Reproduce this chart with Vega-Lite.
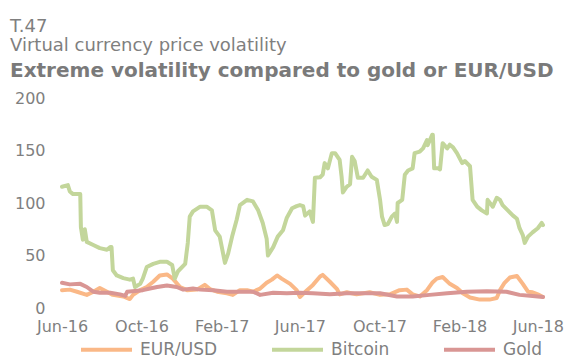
{
  "$schema": "https://vega.github.io/schema/vega-lite/v6.json",
  "autosize": "none",
  "width": 481,
  "height": 210,
  "padding": {"left": 62, "top": 98, "right": 23, "bottom": 48},
  "background": "white",
  "config": {
    "view": {"stroke": null},
    "font": "DejaVu Sans"
  },
  "title": {
    "text": ["T.47", "Virtual currency price volatility"],
    "subtitle": "Extreme volatility compared to gold or EUR/USD",
    "anchor": "start",
    "frame": "group",
    "orient": "top",
    "dx": -52,
    "fontSize": 18,
    "fontWeight": "normal",
    "lineHeight": 19,
    "color": "#7f7f7f",
    "subtitleFontSize": 20,
    "subtitleFontWeight": "bold",
    "subtitleColor": "#7a7a7a",
    "subtitlePadding": 6,
    "offset": 9
  },
  "data": {
    "values": [
      {"date": "2016-06-01", "series": "EUR/USD", "value": 17},
      {"date": "2016-06-13", "series": "EUR/USD", "value": 17.5},
      {"date": "2016-06-24", "series": "EUR/USD", "value": 15.5},
      {"date": "2016-07-09", "series": "EUR/USD", "value": 12.5},
      {"date": "2016-07-19", "series": "EUR/USD", "value": 15.5},
      {"date": "2016-07-29", "series": "EUR/USD", "value": 19},
      {"date": "2016-08-09", "series": "EUR/USD", "value": 15.5},
      {"date": "2016-08-18", "series": "EUR/USD", "value": 12.5},
      {"date": "2016-09-03", "series": "EUR/USD", "value": 11},
      {"date": "2016-09-13", "series": "EUR/USD", "value": 8.5},
      {"date": "2016-09-18", "series": "EUR/USD", "value": 12.5},
      {"date": "2016-09-29", "series": "EUR/USD", "value": 17},
      {"date": "2016-10-09", "series": "EUR/USD", "value": 20},
      {"date": "2016-10-19", "series": "EUR/USD", "value": 25},
      {"date": "2016-10-29", "series": "EUR/USD", "value": 31},
      {"date": "2016-11-09", "series": "EUR/USD", "value": 32},
      {"date": "2016-11-18", "series": "EUR/USD", "value": 28},
      {"date": "2016-11-29", "series": "EUR/USD", "value": 20},
      {"date": "2016-12-10", "series": "EUR/USD", "value": 17},
      {"date": "2016-12-25", "series": "EUR/USD", "value": 17.5},
      {"date": "2017-01-06", "series": "EUR/USD", "value": 22},
      {"date": "2017-01-14", "series": "EUR/USD", "value": 18},
      {"date": "2017-01-25", "series": "EUR/USD", "value": 15.5},
      {"date": "2017-02-09", "series": "EUR/USD", "value": 14},
      {"date": "2017-02-18", "series": "EUR/USD", "value": 12.5},
      {"date": "2017-03-01", "series": "EUR/USD", "value": 17},
      {"date": "2017-03-12", "series": "EUR/USD", "value": 17},
      {"date": "2017-03-21", "series": "EUR/USD", "value": 15.5},
      {"date": "2017-04-01", "series": "EUR/USD", "value": 18.5},
      {"date": "2017-04-11", "series": "EUR/USD", "value": 24},
      {"date": "2017-04-19", "series": "EUR/USD", "value": 27},
      {"date": "2017-04-27", "series": "EUR/USD", "value": 31},
      {"date": "2017-05-04", "series": "EUR/USD", "value": 28},
      {"date": "2017-05-17", "series": "EUR/USD", "value": 23},
      {"date": "2017-05-27", "series": "EUR/USD", "value": 17},
      {"date": "2017-06-01", "series": "EUR/USD", "value": 10.5},
      {"date": "2017-06-12", "series": "EUR/USD", "value": 17},
      {"date": "2017-06-21", "series": "EUR/USD", "value": 22},
      {"date": "2017-07-02", "series": "EUR/USD", "value": 30},
      {"date": "2017-07-06", "series": "EUR/USD", "value": 31.5},
      {"date": "2017-07-17", "series": "EUR/USD", "value": 25},
      {"date": "2017-07-28", "series": "EUR/USD", "value": 18},
      {"date": "2017-08-01", "series": "EUR/USD", "value": 13},
      {"date": "2017-08-12", "series": "EUR/USD", "value": 15},
      {"date": "2017-08-27", "series": "EUR/USD", "value": 13},
      {"date": "2017-09-16", "series": "EUR/USD", "value": 15},
      {"date": "2017-10-02", "series": "EUR/USD", "value": 12.5},
      {"date": "2017-10-17", "series": "EUR/USD", "value": 13},
      {"date": "2017-11-01", "series": "EUR/USD", "value": 17},
      {"date": "2017-11-12", "series": "EUR/USD", "value": 17.5},
      {"date": "2017-11-21", "series": "EUR/USD", "value": 13},
      {"date": "2017-12-02", "series": "EUR/USD", "value": 11},
      {"date": "2017-12-13", "series": "EUR/USD", "value": 17},
      {"date": "2017-12-21", "series": "EUR/USD", "value": 24},
      {"date": "2017-12-28", "series": "EUR/USD", "value": 28},
      {"date": "2018-01-06", "series": "EUR/USD", "value": 29.5},
      {"date": "2018-01-17", "series": "EUR/USD", "value": 23},
      {"date": "2018-01-28", "series": "EUR/USD", "value": 19},
      {"date": "2018-02-06", "series": "EUR/USD", "value": 14},
      {"date": "2018-02-17", "series": "EUR/USD", "value": 10},
      {"date": "2018-03-04", "series": "EUR/USD", "value": 8},
      {"date": "2018-03-19", "series": "EUR/USD", "value": 8},
      {"date": "2018-03-30", "series": "EUR/USD", "value": 9.5},
      {"date": "2018-04-04", "series": "EUR/USD", "value": 17},
      {"date": "2018-04-11", "series": "EUR/USD", "value": 24},
      {"date": "2018-04-19", "series": "EUR/USD", "value": 29},
      {"date": "2018-04-30", "series": "EUR/USD", "value": 30.5},
      {"date": "2018-05-09", "series": "EUR/USD", "value": 23},
      {"date": "2018-05-17", "series": "EUR/USD", "value": 15.5},
      {"date": "2018-05-24", "series": "EUR/USD", "value": 15},
      {"date": "2018-06-01", "series": "EUR/USD", "value": 13},
      {"date": "2018-06-09", "series": "EUR/USD", "value": 10.5},

      {"date": "2016-06-01", "series": "Bitcoin", "value": 115.5},
      {"date": "2016-06-10", "series": "Bitcoin", "value": 117},
      {"date": "2016-06-13", "series": "Bitcoin", "value": 111},
      {"date": "2016-06-18", "series": "Bitcoin", "value": 108.5},
      {"date": "2016-06-29", "series": "Bitcoin", "value": 108.5},
      {"date": "2016-06-30", "series": "Bitcoin", "value": 77},
      {"date": "2016-07-03", "series": "Bitcoin", "value": 65},
      {"date": "2016-07-06", "series": "Bitcoin", "value": 75},
      {"date": "2016-07-09", "series": "Bitcoin", "value": 63},
      {"date": "2016-07-19", "series": "Bitcoin", "value": 60},
      {"date": "2016-07-29", "series": "Bitcoin", "value": 57},
      {"date": "2016-08-09", "series": "Bitcoin", "value": 55.5},
      {"date": "2016-08-14", "series": "Bitcoin", "value": 58},
      {"date": "2016-08-16", "series": "Bitcoin", "value": 58},
      {"date": "2016-08-18", "series": "Bitcoin", "value": 36},
      {"date": "2016-08-24", "series": "Bitcoin", "value": 31},
      {"date": "2016-09-03", "series": "Bitcoin", "value": 28.5},
      {"date": "2016-09-13", "series": "Bitcoin", "value": 27},
      {"date": "2016-09-18", "series": "Bitcoin", "value": 28},
      {"date": "2016-09-21", "series": "Bitcoin", "value": 20},
      {"date": "2016-09-29", "series": "Bitcoin", "value": 23},
      {"date": "2016-10-03", "series": "Bitcoin", "value": 28},
      {"date": "2016-10-09", "series": "Bitcoin", "value": 39},
      {"date": "2016-10-19", "series": "Bitcoin", "value": 42},
      {"date": "2016-10-29", "series": "Bitcoin", "value": 44},
      {"date": "2016-11-09", "series": "Bitcoin", "value": 44},
      {"date": "2016-11-17", "series": "Bitcoin", "value": 41},
      {"date": "2016-11-21", "series": "Bitcoin", "value": 28},
      {"date": "2016-11-26", "series": "Bitcoin", "value": 35},
      {"date": "2016-12-07", "series": "Bitcoin", "value": 42},
      {"date": "2016-12-11", "series": "Bitcoin", "value": 62},
      {"date": "2016-12-14", "series": "Bitcoin", "value": 87},
      {"date": "2016-12-19", "series": "Bitcoin", "value": 92},
      {"date": "2016-12-30", "series": "Bitcoin", "value": 96.5},
      {"date": "2017-01-09", "series": "Bitcoin", "value": 96.5},
      {"date": "2017-01-17", "series": "Bitcoin", "value": 93},
      {"date": "2017-01-22", "series": "Bitcoin", "value": 74},
      {"date": "2017-01-29", "series": "Bitcoin", "value": 68},
      {"date": "2017-02-06", "series": "Bitcoin", "value": 43},
      {"date": "2017-02-11", "series": "Bitcoin", "value": 52},
      {"date": "2017-02-17", "series": "Bitcoin", "value": 68},
      {"date": "2017-02-24", "series": "Bitcoin", "value": 84},
      {"date": "2017-03-01", "series": "Bitcoin", "value": 98},
      {"date": "2017-03-12", "series": "Bitcoin", "value": 103},
      {"date": "2017-03-21", "series": "Bitcoin", "value": 101.5},
      {"date": "2017-03-29", "series": "Bitcoin", "value": 93},
      {"date": "2017-04-05", "series": "Bitcoin", "value": 81},
      {"date": "2017-04-11", "series": "Bitcoin", "value": 66},
      {"date": "2017-04-13", "series": "Bitcoin", "value": 50},
      {"date": "2017-04-21", "series": "Bitcoin", "value": 58},
      {"date": "2017-04-28", "series": "Bitcoin", "value": 68},
      {"date": "2017-05-06", "series": "Bitcoin", "value": 74},
      {"date": "2017-05-12", "series": "Bitcoin", "value": 86},
      {"date": "2017-05-20", "series": "Bitcoin", "value": 95},
      {"date": "2017-05-27", "series": "Bitcoin", "value": 97},
      {"date": "2017-06-01", "series": "Bitcoin", "value": 98},
      {"date": "2017-06-06", "series": "Bitcoin", "value": 97},
      {"date": "2017-06-09", "series": "Bitcoin", "value": 88},
      {"date": "2017-06-16", "series": "Bitcoin", "value": 92},
      {"date": "2017-06-21", "series": "Bitcoin", "value": 82},
      {"date": "2017-06-24", "series": "Bitcoin", "value": 124},
      {"date": "2017-07-02", "series": "Bitcoin", "value": 124.5},
      {"date": "2017-07-06", "series": "Bitcoin", "value": 127},
      {"date": "2017-07-09", "series": "Bitcoin", "value": 138},
      {"date": "2017-07-14", "series": "Bitcoin", "value": 133},
      {"date": "2017-07-20", "series": "Bitcoin", "value": 147.5},
      {"date": "2017-07-25", "series": "Bitcoin", "value": 147.5},
      {"date": "2017-08-01", "series": "Bitcoin", "value": 141},
      {"date": "2017-08-04", "series": "Bitcoin", "value": 125},
      {"date": "2017-08-06", "series": "Bitcoin", "value": 110},
      {"date": "2017-08-12", "series": "Bitcoin", "value": 115.5},
      {"date": "2017-08-17", "series": "Bitcoin", "value": 118},
      {"date": "2017-08-20", "series": "Bitcoin", "value": 144},
      {"date": "2017-08-24", "series": "Bitcoin", "value": 140},
      {"date": "2017-08-29", "series": "Bitcoin", "value": 124},
      {"date": "2017-09-06", "series": "Bitcoin", "value": 124},
      {"date": "2017-09-13", "series": "Bitcoin", "value": 131},
      {"date": "2017-09-19", "series": "Bitcoin", "value": 125},
      {"date": "2017-09-27", "series": "Bitcoin", "value": 122},
      {"date": "2017-10-02", "series": "Bitcoin", "value": 103},
      {"date": "2017-10-05", "series": "Bitcoin", "value": 87},
      {"date": "2017-10-09", "series": "Bitcoin", "value": 79},
      {"date": "2017-10-14", "series": "Bitcoin", "value": 80},
      {"date": "2017-10-20", "series": "Bitcoin", "value": 87},
      {"date": "2017-10-25", "series": "Bitcoin", "value": 90},
      {"date": "2017-10-28", "series": "Bitcoin", "value": 82},
      {"date": "2017-10-29", "series": "Bitcoin", "value": 100},
      {"date": "2017-11-05", "series": "Bitcoin", "value": 103},
      {"date": "2017-11-09", "series": "Bitcoin", "value": 127},
      {"date": "2017-11-14", "series": "Bitcoin", "value": 131},
      {"date": "2017-11-21", "series": "Bitcoin", "value": 133},
      {"date": "2017-11-24", "series": "Bitcoin", "value": 147.5},
      {"date": "2017-12-02", "series": "Bitcoin", "value": 149},
      {"date": "2017-12-07", "series": "Bitcoin", "value": 152},
      {"date": "2017-12-13", "series": "Bitcoin", "value": 160},
      {"date": "2017-12-14", "series": "Bitcoin", "value": 155},
      {"date": "2017-12-21", "series": "Bitcoin", "value": 165},
      {"date": "2017-12-22", "series": "Bitcoin", "value": 165},
      {"date": "2017-12-24", "series": "Bitcoin", "value": 133},
      {"date": "2017-12-30", "series": "Bitcoin", "value": 133},
      {"date": "2018-01-02", "series": "Bitcoin", "value": 132},
      {"date": "2018-01-06", "series": "Bitcoin", "value": 157},
      {"date": "2018-01-13", "series": "Bitcoin", "value": 152},
      {"date": "2018-01-17", "series": "Bitcoin", "value": 155.5},
      {"date": "2018-01-22", "series": "Bitcoin", "value": 153},
      {"date": "2018-01-28", "series": "Bitcoin", "value": 147.5},
      {"date": "2018-02-05", "series": "Bitcoin", "value": 138},
      {"date": "2018-02-09", "series": "Bitcoin", "value": 140},
      {"date": "2018-02-17", "series": "Bitcoin", "value": 135},
      {"date": "2018-02-21", "series": "Bitcoin", "value": 103},
      {"date": "2018-02-28", "series": "Bitcoin", "value": 96.5},
      {"date": "2018-03-07", "series": "Bitcoin", "value": 93},
      {"date": "2018-03-15", "series": "Bitcoin", "value": 90},
      {"date": "2018-03-16", "series": "Bitcoin", "value": 103},
      {"date": "2018-03-24", "series": "Bitcoin", "value": 96.5},
      {"date": "2018-03-30", "series": "Bitcoin", "value": 105},
      {"date": "2018-04-04", "series": "Bitcoin", "value": 103},
      {"date": "2018-04-08", "series": "Bitcoin", "value": 98},
      {"date": "2018-04-16", "series": "Bitcoin", "value": 93},
      {"date": "2018-04-24", "series": "Bitcoin", "value": 88},
      {"date": "2018-04-30", "series": "Bitcoin", "value": 85},
      {"date": "2018-05-04", "series": "Bitcoin", "value": 76},
      {"date": "2018-05-09", "series": "Bitcoin", "value": 69.5},
      {"date": "2018-05-12", "series": "Bitcoin", "value": 62},
      {"date": "2018-05-17", "series": "Bitcoin", "value": 68},
      {"date": "2018-05-24", "series": "Bitcoin", "value": 72},
      {"date": "2018-06-01", "series": "Bitcoin", "value": 76},
      {"date": "2018-06-07", "series": "Bitcoin", "value": 81},
      {"date": "2018-06-09", "series": "Bitcoin", "value": 79},

      {"date": "2016-06-01", "series": "Gold", "value": 24},
      {"date": "2016-06-13", "series": "Gold", "value": 22.5},
      {"date": "2016-06-29", "series": "Gold", "value": 23},
      {"date": "2016-07-09", "series": "Gold", "value": 20},
      {"date": "2016-07-19", "series": "Gold", "value": 15.5},
      {"date": "2016-07-29", "series": "Gold", "value": 14.5},
      {"date": "2016-08-14", "series": "Gold", "value": 14.5},
      {"date": "2016-08-29", "series": "Gold", "value": 13},
      {"date": "2016-09-06", "series": "Gold", "value": 11.5},
      {"date": "2016-09-09", "series": "Gold", "value": 15.5},
      {"date": "2016-10-03", "series": "Gold", "value": 17},
      {"date": "2016-10-14", "series": "Gold", "value": 18.5},
      {"date": "2016-10-25", "series": "Gold", "value": 20},
      {"date": "2016-11-09", "series": "Gold", "value": 21.5},
      {"date": "2016-11-24", "series": "Gold", "value": 20},
      {"date": "2016-12-04", "series": "Gold", "value": 17.5},
      {"date": "2016-12-19", "series": "Gold", "value": 18.5},
      {"date": "2016-12-30", "series": "Gold", "value": 17.5},
      {"date": "2017-01-19", "series": "Gold", "value": 17},
      {"date": "2017-02-09", "series": "Gold", "value": 15.5},
      {"date": "2017-03-01", "series": "Gold", "value": 15.5},
      {"date": "2017-03-21", "series": "Gold", "value": 15.5},
      {"date": "2017-04-01", "series": "Gold", "value": 12.5},
      {"date": "2017-04-21", "series": "Gold", "value": 14.5},
      {"date": "2017-05-12", "series": "Gold", "value": 14},
      {"date": "2017-06-01", "series": "Gold", "value": 14.5},
      {"date": "2017-06-21", "series": "Gold", "value": 14},
      {"date": "2017-07-17", "series": "Gold", "value": 13},
      {"date": "2017-08-12", "series": "Gold", "value": 14},
      {"date": "2017-10-02", "series": "Gold", "value": 14},
      {"date": "2017-10-28", "series": "Gold", "value": 11},
      {"date": "2017-11-21", "series": "Gold", "value": 11},
      {"date": "2017-12-17", "series": "Gold", "value": 12.5},
      {"date": "2018-01-13", "series": "Gold", "value": 14},
      {"date": "2018-02-12", "series": "Gold", "value": 15.5},
      {"date": "2018-03-15", "series": "Gold", "value": 16},
      {"date": "2018-04-14", "series": "Gold", "value": 15.5},
      {"date": "2018-05-04", "series": "Gold", "value": 12.5},
      {"date": "2018-05-24", "series": "Gold", "value": 11.5},
      {"date": "2018-06-09", "series": "Gold", "value": 10.5}
    ]
  },
  "mark": {"type": "line", "strokeWidth": 4, "strokeJoin": "round", "strokeCap": "round"},
  "encoding": {
    "x": {
      "field": "date",
      "type": "temporal",
      "scale": {"type": "utc", "domain": [{"year": 2016, "month": "jun", "date": 1, "utc": true}, {"year": 2018, "month": "jun", "date": 9, "utc": true}]},
      "axis": {
        "title": null,
        "domain": false,
        "ticks": false,
        "grid": false,
        "format": "%b-%y",
        "values": [
          {"year": 2016, "month": "jun", "date": 1, "utc": true},
          {"year": 2016, "month": "oct", "date": 1, "utc": true},
          {"year": 2017, "month": "feb", "date": 1, "utc": true},
          {"year": 2017, "month": "jun", "date": 1, "utc": true},
          {"year": 2017, "month": "oct", "date": 1, "utc": true},
          {"year": 2018, "month": "feb", "date": 1, "utc": true},
          {"year": 2018, "month": "jun", "date": 1, "utc": true}
        ],
        "labelFontSize": 16,
        "labelColor": "#7f7f7f",
        "labelPadding": 10,
        "labelOverlap": false,
        "labelBound": false,
        "labelFlush": false
      }
    },
    "y": {
      "field": "value",
      "type": "quantitative",
      "scale": {"domain": [0, 200], "nice": false},
      "axis": {
        "title": null,
        "domain": false,
        "ticks": false,
        "tickSize": 0,
        "grid": false,
        "values": [0, 50, 100, 150, 200],
        "labelFontSize": 16,
        "labelColor": "#7f7f7f",
        "labelPadding": 17
      }
    },
    "color": {
      "field": "series",
      "type": "nominal",
      "scale": {"domain": ["EUR/USD", "Bitcoin", "Gold"], "range": ["#FAB887", "#C3D69B", "#D99694"]},
      "legend": {
        "title": null,
        "orient": "none",
        "direction": "horizontal",
        "legendX": 17,
        "legendY": 224,
        "symbolType": "stroke",
        "symbolSize": 2601,
        "symbolStrokeWidth": 4,
        "labelFontSize": 17,
        "labelColor": "#7f7f7f",
        "labelOffset": 6,
        "columnPadding": 46
      }
    }
  }
}
